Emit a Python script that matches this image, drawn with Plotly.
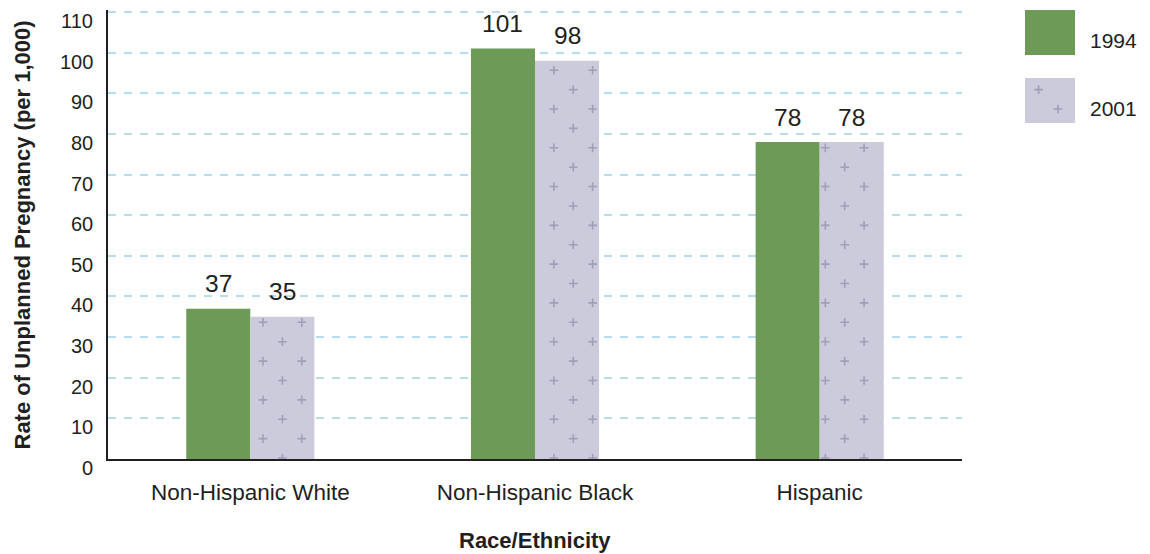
import math
import plotly.graph_objects as go

# ---------------- data ----------------
categories = ["Non-Hispanic White", "Non-Hispanic Black", "Hispanic"]
series_names = ["1994", "2001"]
values_1994 = [37, 101, 78]
values_2001 = [35, 98, 78]
y_ticks = [0, 10, 20, 30, 40, 50, 60, 70, 80, 90, 100, 110]
y_title = "Rate of Unplanned Pregnancy (per 1,000)"
x_title = "Race/Ethnicity"

# ---------------- style / geometry ----------------
W, H = 1150, 554
ML, MR, MT, MB = 108, 10, 5, 95
PLOT_R, PLOT_T = 962, 12      # pixel position of the 110 gridline
HEAD_PX = 2.0                 # small headroom so plotly keeps the top gridline
PW, PH = W - ML - MR, H - MT - MB
BOTTOM = H - MB
Y_MAX = 110
BARGAP = 0.55
GREEN = "#6d9a56"
LAV = "#cccbdc"
PLUS = "#a09eb8"
TXT = "#231f20"
GRID = "#b6dcee"
FONT = "Liberation Sans, Arial, sans-serif"

ppu_x = (PLOT_R - ML) / len(categories)
ppu_y = (BOTTOM - PLOT_T) / Y_MAX
Y_TOP = Y_MAX + HEAD_PX / ppu_y
x_dom = [0, (PLOT_R - ML) / PW]
y_dom = [0, (BOTTOM - PLOT_T + HEAD_PX) / PH]
bw = (1 - BARGAP) / 2  # width of one bar in category units

# legend geometry (px)
LEG_X, LEG_W, LEG_H, LEG_ROW, LEG_C0 = 1025, 50, 45, 68, 32.5
LEG_PAD = 0.4
leg_top_px = LEG_C0 - LEG_PAD * LEG_ROW
leg_bot_px = leg_top_px + (len(series_names) - 1 + 2 * LEG_PAD) * LEG_ROW
x2_dom = [(LEG_X - ML) / PW, (LEG_X + LEG_W - ML) / PW]
y2_dom = [(BOTTOM - leg_bot_px) / PH, (BOTTOM - leg_top_px) / PH]

# global "+" texture lattice (px)
STEP, LX0, LY0 = 19.39, 263.0, 322.3


def lattice(xl, xr, yt, yb, mx=3.0, mt=2.0, mb=5.0):
    pts = []
    n0 = math.ceil((xl + mx - LX0) / STEP)
    n1 = math.floor((xr - mx - LX0) / STEP)
    m0 = math.ceil((yt + mt - LY0) / STEP)
    m1 = math.floor((yb + mb - LY0) / STEP)
    for n in range(n0, n1 + 1):
        for m in range(m0, m1 + 1):
            if (n + m) % 2 == 0:
                pts.append((LX0 + n * STEP, LY0 + m * STEP))
    return pts


fig = go.Figure()

# main bars
fig.add_trace(go.Bar(x=list(range(len(categories))), y=values_1994, name=series_names[0],
                     marker=dict(color=GREEN, line=dict(width=0)), hoverinfo="skip",
                     showlegend=False))
fig.add_trace(go.Bar(x=list(range(len(categories))), y=values_2001, name=series_names[1],
                     marker=dict(color=LAV, line=dict(width=0)), hoverinfo="skip",
                     showlegend=False))

# "+" texture on 2001 bars, derived from bar extents
px_pts = []
for i, v in enumerate(values_2001):
    xl = ML + (i + 0.5) * ppu_x
    xr = xl + bw * ppu_x
    yt = BOTTOM - v * ppu_y
    px_pts += lattice(xl, xr, yt, BOTTOM)
fig.add_trace(go.Scatter(
    x=[(p[0] - ML) / ppu_x - 0.5 for p in px_pts],
    y=[(BOTTOM - p[1]) / ppu_y for p in px_pts],
    mode="markers", hoverinfo="skip", showlegend=False,
    marker=dict(symbol="cross-thin", size=6.2, line=dict(color=PLUS, width=1.6))))

# legend swatches on their own little axes
leg_idx = [len(series_names) - 1 - k for k in range(len(series_names))]
fig.add_trace(go.Bar(y=leg_idx, x=[1] * len(series_names), orientation="h",
                     width=LEG_H / LEG_ROW, xaxis="x2", yaxis="y2",
                     marker=dict(color=[GREEN, LAV], line=dict(width=0)),
                     hoverinfo="skip", showlegend=False))
lpts = []
for k, idx in enumerate(leg_idx):
    if k == 1:
        cy = LEG_C0 + (len(series_names) - 1 - idx) * LEG_ROW
        lpts += lattice(LEG_X, LEG_X + LEG_W - 1.5, cy - LEG_H / 2, cy + LEG_H / 2, mb=-3)
fig.add_trace(go.Scatter(
    x=[(p[0] - LEG_X) / LEG_W for p in lpts],
    y=[(LEG_C0 + (len(series_names) - 1) * LEG_ROW - p[1]) / LEG_ROW for p in lpts],
    xaxis="x2", yaxis="y2", mode="markers", hoverinfo="skip", showlegend=False,
    marker=dict(symbol="cross-thin", size=6.2, line=dict(color=PLUS, width=1.6))))

annotations = []
# y tick labels (slightly below their gridlines, as in the original)
for t in y_ticks:
    annotations.append(dict(x=0, xref="paper", y=t, yref="y", xanchor="right", yanchor="middle",
                            xshift=-13, yshift=-9, text=str(t), showarrow=False,
                            font=dict(size=20, color=TXT, family=FONT)))
# value labels
for vals, sgn in ((values_1994, -1), (values_2001, 1)):
    for i, v in enumerate(vals):
        annotations.append(dict(x=i + sgn * bw / 2, xref="x", y=v, yref="y",
                                xanchor="center", yanchor="middle", yshift=25,
                                text=str(v), showarrow=False,
                                font=dict(size=24.5, color=TXT, family=FONT)))
# legend labels
for k, idx in enumerate(leg_idx):
    annotations.append(dict(x=(1088 - ML) / PW, xref="paper", y=idx, yref="y2",
                            xanchor="left", yanchor="middle", yshift=-7.5,
                            text=series_names[k], showarrow=False,
                            font=dict(size=21, color=TXT, family=FONT)))
# axis titles
annotations.append(dict(x=(x_dom[0] + x_dom[1]) / 2, xref="paper", y=-(540 - BOTTOM) / PH, yref="paper",
                        xanchor="center", yanchor="middle", text="<b>" + x_title + "</b>",
                        showarrow=False, font=dict(size=22, color=TXT, family=FONT)))
annotations.append(dict(x=(22 - ML) / PW, xref="paper", y=((BOTTOM - (BOTTOM + PLOT_T) / 2) / PH),
                        yref="paper", xanchor="center", yanchor="middle", textangle=-90,
                        text="<b>" + y_title + "</b>",
                        showarrow=False, font=dict(size=22, color=TXT, family=FONT)))

fig.update_layout(
    width=W, height=H,
    margin=dict(l=ML, r=MR, t=MT, b=MB, autoexpand=False),
    paper_bgcolor="white", plot_bgcolor="white",
    barmode="group", bargap=BARGAP, bargroupgap=0,
    font=dict(family=FONT, color=TXT),
    showlegend=False,
    annotations=annotations,
    xaxis=dict(domain=x_dom, range=[-0.5, len(categories) - 0.5], tickvals=list(range(len(categories))),
               ticktext=categories, ticks="", showgrid=False, zeroline=False,
               showline=True, linecolor="#231f20", linewidth=2, ticklabelstandoff=12,
               tickfont=dict(size=22.5, color=TXT, family=FONT), fixedrange=True),
    yaxis=dict(domain=y_dom, range=[0, Y_TOP], tickvals=y_ticks, showticklabels=False, ticks="",
               showgrid=True, gridcolor=GRID, gridwidth=2, griddash="8px,8px",
               zeroline=False, showline=True, linecolor="#231f20", linewidth=1.5, fixedrange=True),
    xaxis2=dict(domain=x2_dom, range=[0, 1], visible=False, anchor="y2", fixedrange=True),
    yaxis2=dict(domain=y2_dom, range=[-LEG_PAD, len(series_names) - 1 + LEG_PAD], visible=False,
                anchor="x2", fixedrange=True),
)

fig.write_html("out.html", config={"displayModeBar": False},
               post_script="document.body.style.margin='0';document.body.style.overflow='hidden';")
